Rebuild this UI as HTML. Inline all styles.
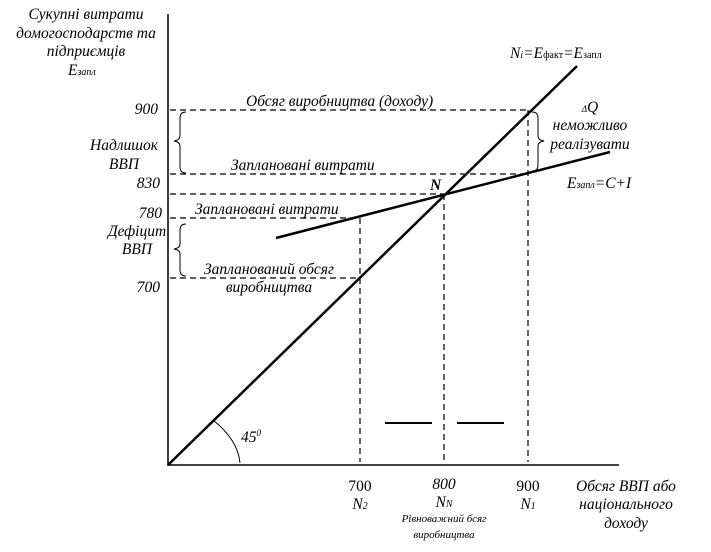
<!DOCTYPE html>
<html><head><meta charset="utf-8"><style>
body{margin:0;background:#fff}
svg{display:block}
text{font-family:"Liberation Serif",serif;font-style:italic;font-size:15.5px;fill:#000}
.n{font-style:normal}
.s{font-size:11px}
</style></head><body>
<svg width="711" height="552" viewBox="0 0 711 552" xmlns="http://www.w3.org/2000/svg">
<g stroke="#000" fill="none">
<line x1="168" y1="14" x2="168" y2="466" stroke-width="1.5"/>
<line x1="168" y1="465" x2="619" y2="465" stroke-width="1.5"/>
<line x1="168" y1="465" x2="577" y2="66" stroke-width="2.5"/>
<line x1="276" y1="238" x2="610" y2="152" stroke-width="2.5"/>
<g stroke-dasharray="6,4" stroke-width="1.2">
<line x1="170" y1="110" x2="528" y2="110"/>
<line x1="170" y1="174" x2="528" y2="174"/>
<line x1="170" y1="194" x2="444" y2="194"/>
<line x1="170" y1="218" x2="360" y2="218"/>
<line x1="170" y1="278" x2="360" y2="278"/>
<line x1="360" y1="218" x2="360" y2="462"/>
<line x1="444" y1="194" x2="444" y2="462"/>
<line x1="528" y1="110" x2="528" y2="462"/>
</g>
<path d="M186 112 Q180 112 180 118 L180 136 Q180 140 174 141 Q180 142 180 146 L180 167 Q180 173 186 173" stroke-width="1"/>
<path d="M186 224 Q180 224 180 230 L180 244 Q180 248 174 249 Q180 250 180 254 L180 270 Q180 276 186 276" stroke-width="1"/>
<path d="M532 112 Q538 112 538 118 L538 136 Q538 140 544 141 Q538 142 538 146 L538 165 Q538 171 532 171" stroke-width="1"/>
<line x1="385" y1="423" x2="432" y2="423" stroke-width="2"/>
<line x1="457" y1="423" x2="504" y2="423" stroke-width="2"/>
<path d="M213 420 Q238 440 240 463" stroke-width="1"/>
</g>
<text x="86" y="19" text-anchor="middle">Сукупні витрати</text>
<text x="86" y="38" text-anchor="middle">домогосподарств та</text>
<text x="86" y="56" text-anchor="middle">підприємців</text>
<text x="68" y="75">E<tspan style="font-size:10px">запл</tspan></text>
<text x="158" y="114" text-anchor="end">900</text>
<text x="124" y="150" text-anchor="middle">Надлишок</text>
<text x="124" y="169" text-anchor="middle">ВВП</text>
<text x="160" y="188" text-anchor="end">830</text>
<text x="162" y="218" text-anchor="end">780</text>
<text x="137" y="236" text-anchor="middle">Дефіцит</text>
<text x="137" y="254" text-anchor="middle">ВВП</text>
<text x="160" y="292" text-anchor="end">700</text>
<text x="246" y="106">Обсяг виробництва (доходу)</text>
<text x="231" y="170">Заплановані витрати</text>
<text x="195" y="214">Заплановані витрати</text>
<text x="269" y="274" text-anchor="middle">Запланований обсяг</text>
<text x="269" y="292" text-anchor="middle">виробництва</text>
<text x="430" y="190" font-weight="bold">N</text>
<text x="510" y="58">N<tspan style="font-size:10px">i</tspan>=E<tspan style="font-size:10px;font-style:normal">факт</tspan>=E<tspan style="font-size:10px;font-style:normal">запл</tspan></text>
<text x="590" y="112" text-anchor="middle"><tspan style="font-size:9px">Δ</tspan>Q</text>
<text x="590" y="130" text-anchor="middle">неможливо</text>
<text x="590" y="149" text-anchor="middle">реалізувати</text>
<text x="567" y="188">E<tspan style="font-size:10px">запл</tspan>=C+I</text>
<text x="241" y="442">45<tspan style="font-size:9px" dy="-6">0</tspan></text>
<text class="n" x="360" y="491" text-anchor="middle">700</text>
<text x="360" y="509" text-anchor="middle">N<tspan style="font-size:10px">2</tspan></text>
<text x="444" y="489" text-anchor="middle">800</text>
<text x="444" y="507" text-anchor="middle">N<tspan style="font-size:10px">N</tspan></text>
<text class="s" x="444" y="522" text-anchor="middle">Рівноважний бсяг</text>
<text class="s" x="444" y="538" text-anchor="middle">виробництва</text>
<text class="n" x="528" y="491" text-anchor="middle">900</text>
<text x="528" y="509" text-anchor="middle">N<tspan style="font-size:10px">1</tspan></text>
<text x="626" y="491" text-anchor="middle">Обсяг ВВП або</text>
<text x="626" y="509" text-anchor="middle">національного</text>
<text x="626" y="528" text-anchor="middle">доходу</text>
</svg>
</body></html>
